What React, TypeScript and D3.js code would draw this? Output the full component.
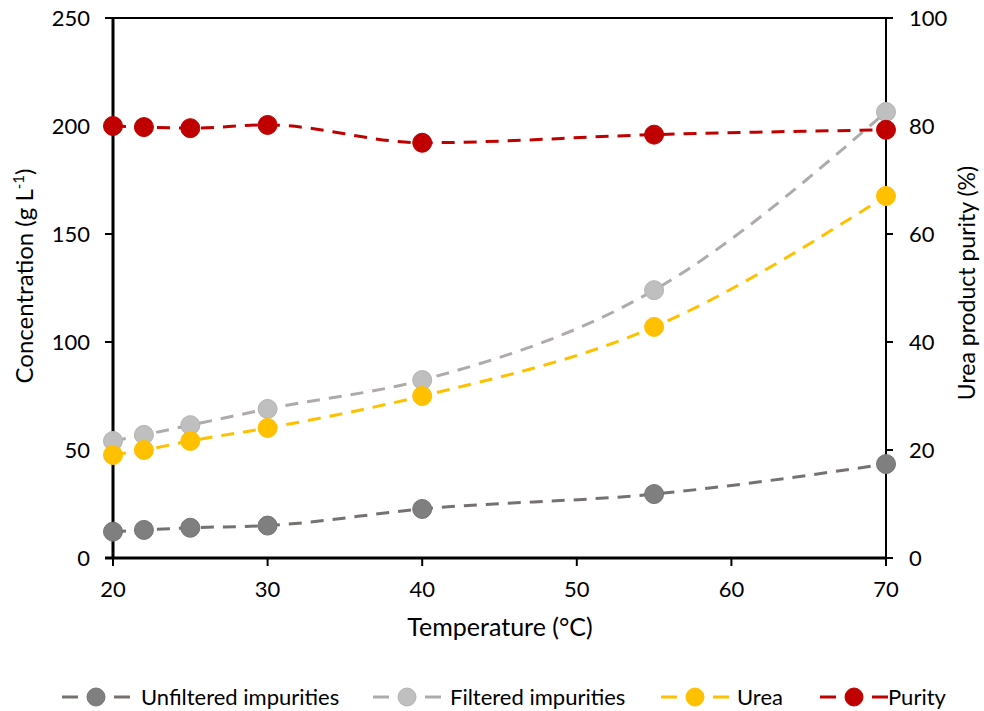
import React from "react";
import * as d3 from "d3";

const temps = [20, 22, 25, 30, 40, 55, 70];
const unfiltered = [12.2, 13, 14, 15, 22.7, 29.6, 43.5];
const filtered = [54.2, 57, 61.5, 69, 82.4, 124, 206.5];
const urea = [47.7, 50, 54.2, 60.2, 75, 107, 167.6];
const purity = [80.0, 79.8, 79.6, 80.2, 76.9, 78.4, 79.3];

const xTicks = [20, 30, 40, 50, 60, 70];
const yLeftTicks = [0, 50, 100, 150, 200, 250];
const yRightTicks = [0, 20, 40, 60, 80, 100];

const seriesNames = ["Unfiltered impurities", "Filtered impurities", "Urea", "Purity"];

const W = 984, H = 711;
const L = 113, R = 886, T = 18, B = 558;
const FONT = "Lato, 'Open Sans', sans-serif";

const styles = [
  { fill: "#7f7f7f", stroke: "#747474", line: "#767171" },
  { fill: "#bfbfbf", stroke: "#b3b3b3", line: "#afabab" },
  { fill: "#ffc000", stroke: "#ffc000", line: "#ffc000" },
  { fill: "#c00000", stroke: "#c00000", line: "#c00000" },
];

export default function App() {
  const x = d3.scaleLinear().domain([20, 70]).range([L, R]);
  const yL = d3.scaleLinear().domain([0, 250]).range([B, T]);
  const yR = d3.scaleLinear().domain([0, 100]).range([B, T]);

  const data = [
    { vals: unfiltered, y: yL },
    { vals: filtered, y: yL },
    { vals: urea, y: yL },
    { vals: purity, y: yR },
  ];

  const mkLine = (y: d3.ScaleLinear<number, number>) =>
    d3
      .line<[number, number]>()
      .x((d) => x(d[0]))
      .y((d) => y(d[1]))
      .curve(d3.curveMonotoneX);

  const legendItems = [
    { lx: 62, tx: 141 },
    { lx: 373, tx: 450 },
    { lx: 661, tx: 737 },
    { lx: 820, tx: 888 },
  ];
  const ly = 697;

  return (
    <svg width={W} height={H} style={{ position: "absolute", left: 0, top: 0, background: "#fff" }}>
      <rect x={0} y={0} width={W} height={H} fill="#fff" />
      {/* frame */}
      <line x1={L} x2={R} y1={T} y2={T} stroke="#000" strokeWidth={2} />
      <line x1={R} x2={R} y1={T} y2={B} stroke="#000" strokeWidth={2} />
      {/* left ticks */}
      {yLeftTicks.map((t) => (
        <g key={"l" + t}>
          <line x1={L - 8} x2={L} y1={yL(t)} y2={yL(t)} stroke="#000" strokeWidth={2} />
          <text x={90} y={yL(t)} dy="0.36em" textAnchor="end" fontSize={22} fontFamily={FONT} fill="#000">
            {t}
          </text>
        </g>
      ))}
      {/* right ticks */}
      {yRightTicks.map((t) => (
        <g key={"r" + t}>
          <line x1={R} x2={R + 7} y1={yR(t)} y2={yR(t)} stroke="#000" strokeWidth={2} />
          <text x={909} y={yR(t)} dy="0.36em" textAnchor="start" fontSize={22} fontFamily={FONT} fill="#000">
            {t}
          </text>
        </g>
      ))}
      {/* bottom ticks */}
      {xTicks.map((t) => (
        <g key={"b" + t}>
          <line x1={x(t)} x2={x(t)} y1={B} y2={B + 8} stroke="#000" strokeWidth={2} />
          <text x={x(t)} y={597} textAnchor="middle" fontSize={22} fontFamily={FONT} fill="#000">
            {t}
          </text>
        </g>
      ))}
      <line x1={L} x2={L} y1={T - 1} y2={B + 1} stroke="#000" strokeWidth={3} />
      <line x1={L - 8} x2={R} y1={B} y2={B} stroke="#000" strokeWidth={3} />

      {/* axis titles */}
      <text x={500} y={636} textAnchor="middle" fontSize={25} fontFamily={FONT} fill="#000">
        Temperature (°C)
      </text>
      <text
        transform={`translate(33, 276) rotate(-90)`}
        textAnchor="middle"
        fontSize={24}
        fontFamily={FONT}
        fill="#000"
      >
        Concentration (g L<tspan dy={-9} fontSize={15}>-1</tspan>
        <tspan dy={9}>)</tspan>
      </text>
      <text
        transform={`translate(975, 283) rotate(-90)`}
        textAnchor="middle"
        fontSize={23}
        fontFamily={FONT}
        fill="#000"
      >
        Urea product purity (%)
      </text>

      {/* series */}
      {data.map((s, i) => {
        const pts: [number, number][] = temps.map((t, j) => [t, s.vals[j]]);
        return (
          <g key={"s" + i}>
            <path
              d={mkLine(s.y)(pts) || ""}
              fill="none"
              stroke={styles[i].line}
              strokeWidth={3}
              strokeDasharray="13,9"
            />
            {pts.map((p, j) => (
              <circle
                key={j}
                cx={x(p[0])}
                cy={s.y(p[1])}
                r={9.5}
                fill={styles[i].fill}
                stroke={styles[i].stroke}
                strokeWidth={1}
              />
            ))}
          </g>
        );
      })}

      {/* legend */}
      {legendItems.map((it, i) => (
        <g key={"lg" + i}>
          <line x1={it.lx} x2={it.lx + 16} y1={ly} y2={ly} stroke={styles[i].line} strokeWidth={3} />
          <line x1={it.lx + 52} x2={it.lx + 68} y1={ly} y2={ly} stroke={styles[i].line} strokeWidth={3} />
          <circle cx={it.lx + 34} cy={ly} r={9} fill={styles[i].fill} stroke={styles[i].stroke} strokeWidth={1} />
          <text x={it.tx} y={ly} dy="0.36em" fontSize={22} fontFamily={FONT} fill="#000">
            {seriesNames[i]}
          </text>
        </g>
      ))}
    </svg>
  );
}
